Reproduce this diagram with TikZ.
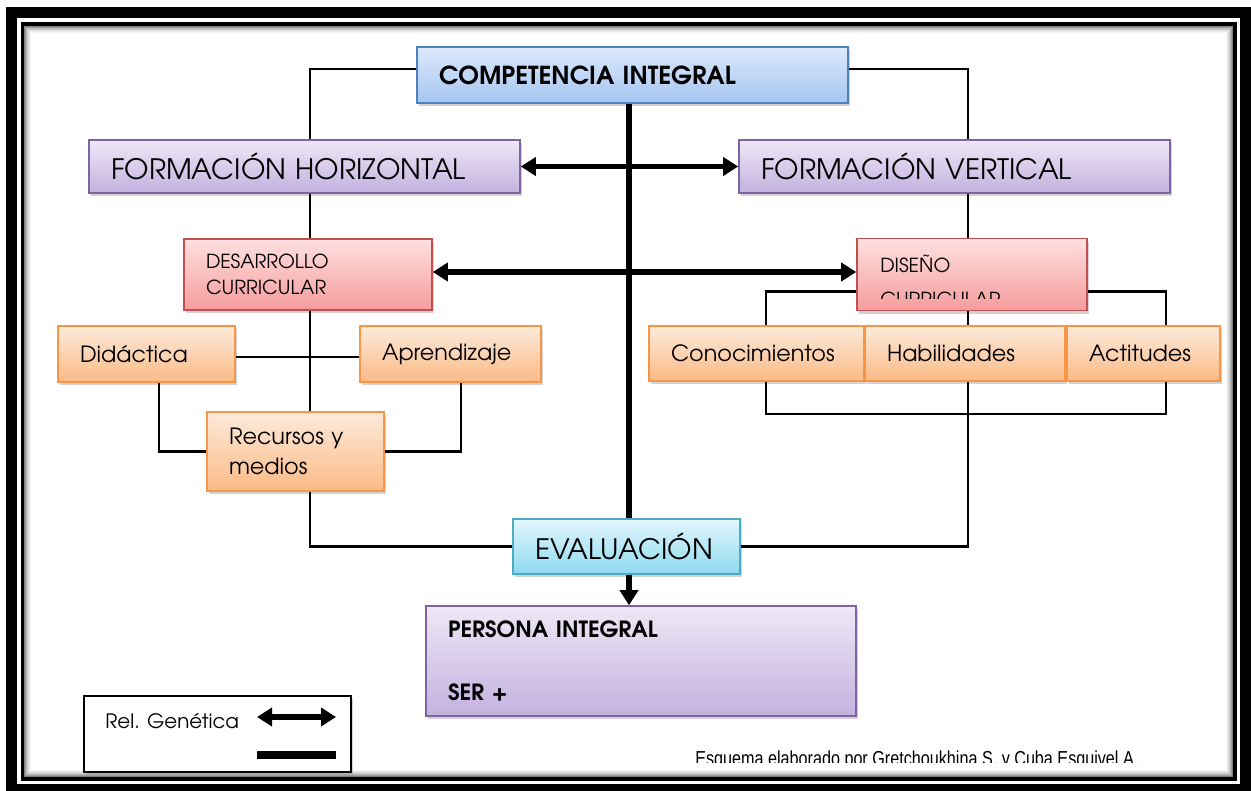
\documentclass[tikz,border=0pt]{standalone}
\usepackage{fontspec}
\setmainfont{TeX Gyre Adventor}
\newfontfamily\footerfont[FakeStretch=0.80]{Liberation Sans}
\usetikzlibrary{arrows.meta,shadows}

\definecolor{bluetop}{HTML}{DCE9FB}
\definecolor{bluebot}{HTML}{A5C5F1}
\definecolor{blueline}{HTML}{4F81BD}
\definecolor{purpletop}{HTML}{EEE8F6}
\definecolor{purplebot}{HTML}{C3B1DF}
\definecolor{purpleline}{HTML}{8064A2}
\definecolor{redtop}{HTML}{FFE0E0}
\definecolor{redbot}{HTML}{F59C9C}
\definecolor{redline}{HTML}{C0504D}
\definecolor{orangetop}{HTML}{FDEADB}
\definecolor{orangebot}{HTML}{FBBB86}
\definecolor{orangeline}{HTML}{F79646}
\definecolor{cyantop}{HTML}{E2F6FC}
\definecolor{cyanbot}{HTML}{8FDAEF}
\definecolor{cyanline}{HTML}{4BACC6}

\tikzset{
  box/.style={draw, line width=0.9pt, align=left, inner xsep=0.44cm, inner ysep=0pt,
    drop shadow={shadow xshift=0.04cm, shadow yshift=-0.06cm, opacity=0.35}},
  bluebox/.style={box, draw=blueline, top color=bluetop, bottom color=bluebot,
    font=\bfseries\fontsize{14.1}{17}\selectfont},
  purplebox/.style={box, draw=purpleline, top color=purpletop, bottom color=purplebot,
    font=\fontsize{16}{19}\selectfont},
  redbox/.style={box, draw=redline, top color=redtop, bottom color=redbot,
    font=\fontsize{11}{14.7}\selectfont},
  orangebox/.style={box, draw=orangeline, top color=orangetop, bottom color=orangebot,
    font=\fontsize{12.7}{17}\selectfont},
  cyanbox/.style={box, draw=cyanline, top color=cyantop, bottom color=cyanbot,
    font=\fontsize{16}{19}\selectfont},
  thinline/.style={line width=1.2pt},
  thickline/.style={line width=3pt},
  bigarrow/.style={thickline, -{Triangle[length=0.3cm,width=0.36cm]}},
  botharrow/.style={thickline, {Triangle[length=0.3cm,width=0.36cm]}-{Triangle[length=0.3cm,width=0.36cm]}}
}

\begin{document}
\begin{tikzpicture}
    \useasboundingbox (0,0) rectangle (25.02,-15.82);

    % frame
    \draw[line width=0.22cm] (0.23,-0.25) rectangle (24.91,-15.79);
    \draw[line width=0.07cm] (0.45,-0.48) rectangle (24.70,-15.58);
    \foreach \i/\c in {1/50,2/38,3/28,4/20,5/13,6/8,7/4}
        \draw[black!\c, line width=0.02cm] ({0.475+0.02*\i},{-0.505-0.02*\i}) rectangle ({24.675-0.02*\i},{-15.555+0.02*\i});

    \coordinate (LeftCol) at (6.20,0);
    \coordinate (CenterCol) at (12.58,0);
    \coordinate (RightCol) at (19.36,0);
    \coordinate (DidCol) at (3.18,0);
    \coordinate (AprCol) at (9.22,0);
    \coordinate (ConCol) at (15.32,0);
    \coordinate (ActCol) at (23.32,0);

    \node (CompetenciaIntegral) [bluebox, text width=7.74cm, minimum height=1.12cm] at (12.65,-1.50) {COMPETENCIA INTEGRAL};
    \node (FormacionHorizontal) [purplebox, text width=7.74cm, minimum height=1.06cm] at (6.09,-3.33) {FORMACIÓN HORIZONTAL};
    \node (FormacionVertical) [purplebox, text width=7.74cm, minimum height=1.06cm] at (19.09,-3.33) {FORMACIÓN VERTICAL};
    \node (DesarrolloCurricular) [redbox, text width=4.08cm, minimum height=1.42cm] at (6.16,-5.49) {DESARROLLO\\CURRICULAR};
    \node (DisenoCurricular) [redbox, text width=3.72cm, minimum height=1.44cm] at (19.44,-5.49) {};
    \begin{scope}
        \clip (17.3,-4.9) rectangle (21.6,-5.96);
        \node (DisenoTexto) [anchor=north west, inner sep=0pt, align=left, font=\fontsize{11}{19.3}\selectfont] at (17.60,-5.10) {DISEÑO\\CURRICULAR};
    \end{scope}

    \node (Didactica) [orangebox, text width=2.66cm, minimum height=1.12cm] at (2.93,-7.08) {Didáctica};
    \node (Aprendizaje) [orangebox, text width=2.74cm, minimum height=1.12cm] at (9.01,-7.08) {Aprendizaje};
    \node (RecursosMedios) [orangebox, text width=2.66cm, minimum height=1.58cm] at (5.91,-9.03) {Recursos y\\medios};
    \node (Conocimientos) [orangebox, text width=3.42cm, minimum height=1.10cm] at (15.13,-7.07) {Conocimientos};
    \node (Habilidades) [orangebox, text width=3.12cm, minimum height=1.10cm] at (19.30,-7.07) {Habilidades};
    \node (Actitudes) [orangebox, text width=2.18cm, minimum height=1.10cm] at (22.87,-7.07) {Actitudes};
    \node (Evaluacion) [cyanbox, text width=3.66cm, minimum height=1.10cm] at (12.53,-10.93) {EVALUACIÓN};
    \node (PersonaIntegral) [purplebox, font=\bfseries\fontsize{12.7}{15}\selectfont, text width=7.72cm, minimum height=2.20cm] at (12.82,-13.22) {PERSONA INTEGRAL\\[0.72cm]SER +};

    % thin links
    \draw[thinline] ([yshift=0.12cm]CompetenciaIntegral.west) -| (FormacionHorizontal.north -| LeftCol);
    \draw[thinline] ([yshift=0.12cm]CompetenciaIntegral.east) -| (FormacionVertical.north -| RightCol);
    \draw[thinline] (FormacionHorizontal.south -| LeftCol) -- (DesarrolloCurricular.north -| LeftCol);
    \draw[thinline] (DesarrolloCurricular.south -| LeftCol) -- (RecursosMedios.north -| LeftCol);
    \draw[thinline] ([yshift=-0.06cm]Didactica.east) -- ([yshift=-0.06cm]Aprendizaje.west);
    \draw[thinline] (Didactica.south -| DidCol) |- (RecursosMedios.west);
    \draw[thinline] (Aprendizaje.south -| AprCol) |- (RecursosMedios.east);
    \draw[thinline] (RecursosMedios.south -| LeftCol) |- (Evaluacion.west);
    \draw[thinline] (FormacionVertical.south -| RightCol) -- (DisenoCurricular.north -| RightCol);
    \draw[thinline] (DisenoCurricular.south -| RightCol) -- (Habilidades.north -| RightCol);
    \draw[thinline] ([yshift=-0.34cm]DisenoCurricular.west) -| (Conocimientos.north -| ConCol);
    \draw[thinline] ([yshift=-0.34cm]DisenoCurricular.east) -| (Actitudes.north -| ActCol);
    \draw[thinline] (Conocimientos.south -| ConCol) -- ++(0,-0.64) -| (Actitudes.south -| ActCol);
    \draw[thinline] (Habilidades.south -| RightCol) |- (Evaluacion.east);

    % thick links
    \draw[thickline] (CompetenciaIntegral.south -| CenterCol) -- (Evaluacion.north -| CenterCol);
    \draw[bigarrow] (Evaluacion.south -| CenterCol) -- (PersonaIntegral.north -| CenterCol);
    \draw[botharrow] (FormacionHorizontal.east) -- (FormacionVertical.west);
    \draw[botharrow] ([yshift=0.05cm]DesarrolloCurricular.east) -- ([yshift=0.05cm]DisenoCurricular.west);

    % legend
    \node (Leyenda) [draw, line width=1.2pt, fill=white, minimum width=5.34cm, minimum height=1.52cm,
        drop shadow={shadow xshift=0.04cm, shadow yshift=-0.06cm, opacity=0.35}] at (4.35,-14.68) {};
    \node (RelGenetica) [anchor=west, inner sep=0pt, font=\fontsize{11.3}{13}\selectfont] at (2.10,-14.42) {Rel. Genética};
    \coordinate (LegendArrowA) at (5.14,-14.34);
    \coordinate (LegendArrowB) at (6.72,-14.34);
    \coordinate (LegendLineA) at (5.14,-15.10);
    \coordinate (LegendLineB) at (6.72,-15.10);
    \draw[botharrow] (LegendArrowA) -- (LegendArrowB);
    \draw[line width=4pt] (LegendLineA) -- (LegendLineB);

    \begin{scope}
        \clip (13.5,-14.6) rectangle (23.5,-15.25);
        \node (Autores) [anchor=base west, inner sep=0pt, font=\footerfont\fontsize{11.5}{13}\selectfont] at (13.90,-15.31) {Esquema elaborado por Gretchoukhina S. y Cuba Esquivel A.};
    \end{scope}
\end{tikzpicture}
\end{document}
